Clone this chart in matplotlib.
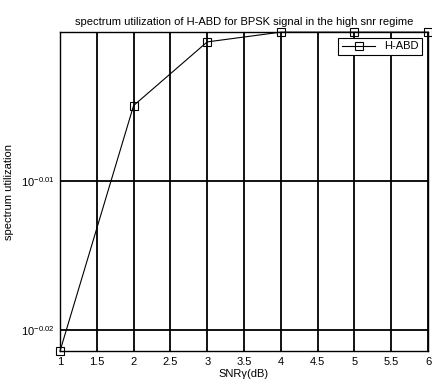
import matplotlib
matplotlib.use("Agg")
import matplotlib.pyplot as plt
from matplotlib.ticker import FixedLocator, NullLocator

plt.rcParams['font.family'] = ['Liberation Sans', 'DejaVu Sans']
plt.rcParams['mathtext.fontset'] = 'custom'
plt.rcParams['mathtext.rm'] = 'Liberation Sans'
plt.rcParams['mathtext.it'] = 'Liberation Sans:italic'

# data
snr = [1, 2, 3, 4, 5, 6]
utilization = [0.9519, 0.9887, 0.99847, 0.99998, 0.99998, 0.99998]
y_ticks = [10 ** -0.02, 10 ** -0.01]
y_tick_labels = [r'$10^{-0.02}$', r'$10^{-0.01}$']
x_ticks = [1, 1.5, 2, 2.5, 3, 3.5, 4, 4.5, 5, 5.5, 6]
x_tick_labels = ['1', '1.5', '2', '2.5', '3', '3.5', '4', '4.5', '5', '5.5', '6']

fig = plt.figure(figsize=(4.32, 3.83), dpi=100)
ax = fig.add_axes([60 / 432, 1 - 351 / 383, 368 / 432, 319 / 383])

ax.plot(snr, utilization, color='black', linewidth=0.8, marker='s',
        markersize=5.5, markerfacecolor='none', markeredgecolor='black',
        markeredgewidth=0.8, label='H-ABD', clip_on=False, zorder=5)

ax.set_yscale('log')
ax.set_xlim(1, 6)
ax.set_ylim(10 ** -0.0214, 1.0)
ax.xaxis.set_major_locator(FixedLocator(x_ticks))
ax.set_xticklabels(x_tick_labels)
ax.yaxis.set_major_locator(FixedLocator(y_ticks))
ax.yaxis.set_minor_locator(NullLocator())
ax.set_yticklabels(y_tick_labels)
ax.tick_params(axis='both', direction='in', length=0, labelsize=8, pad=4)

ax.grid(True, which='major', color='black', linewidth=1.3)
for s in ax.spines.values():
    s.set_linewidth(1.0)

ax.set_title('spectrum utilization of H-ABD for BPSK signal in the high snr regime',
             fontsize=8, pad=5)
ax.set_xlabel('SNR\u03b3(dB)', fontsize=8, labelpad=2)
ax.set_ylabel('spectrum utilization', fontsize=8, labelpad=5)

leg = ax.legend(loc='upper right', fontsize=8, frameon=True, fancybox=False,
                edgecolor='black', framealpha=1, borderaxespad=0.5,
                handlelength=3, borderpad=0.35)
leg.get_frame().set_linewidth(0.8)

fig.savefig('out.png', dpi=100)
